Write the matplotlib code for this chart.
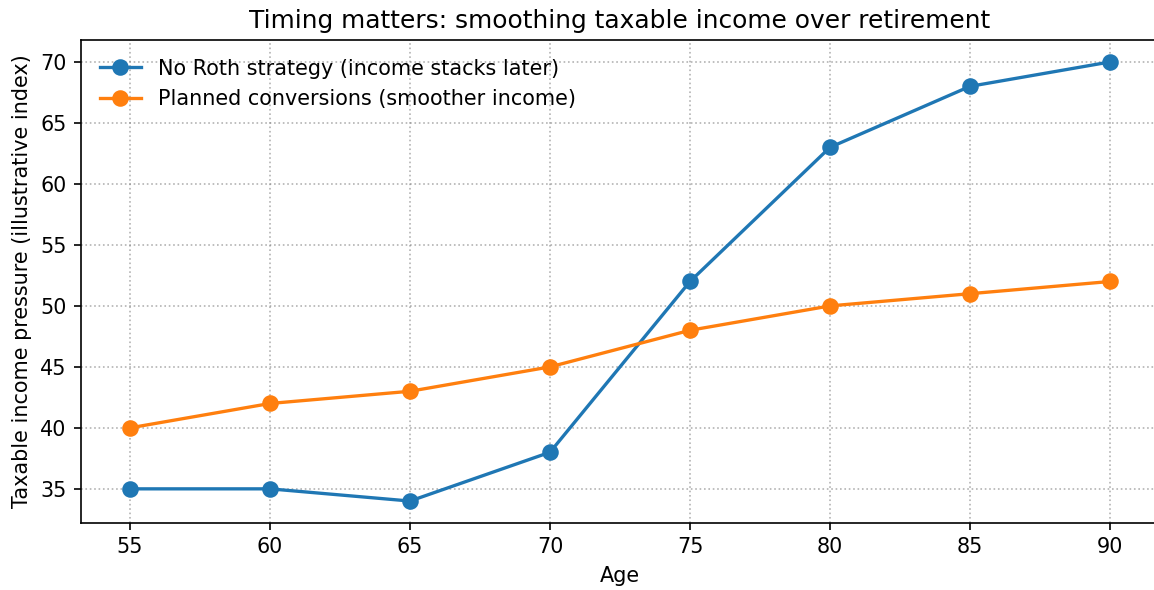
import matplotlib
matplotlib.use("Agg")
import matplotlib.pyplot as plt

# data
ages = [55, 60, 65, 70, 75, 80, 85, 90]
no_roth = [35, 35, 34, 38, 52, 63, 68, 70]
planned = [40, 42, 43, 45, 48, 50, 51, 52]

DPI = 149
fig = plt.figure(figsize=(1154 / DPI, 590 / DPI), dpi=DPI)
# axes placed so the right edge runs just past the image, as in the reference
ax = fig.add_axes([81 / 1154, 67 / 590, 1078 / 1154, 483 / 590])

ax.plot(ages, no_roth, marker="o", markersize=7, linewidth=1.6,
        label="No Roth strategy (income stacks later)")
ax.plot(ages, planned, marker="o", markersize=7, linewidth=1.6,
        label="Planned conversions (smoother income)")

ax.set_xticks(ages)
ax.set_title("Timing matters: smoothing taxable income over retirement", fontsize=12)
ax.set_xlabel("Age")
ax.set_ylabel("Taxable income pressure (illustrative index)")
ax.grid(True, linestyle=":", color="gray", alpha=0.6)
ax.spines["right"].set_visible(False)
ax.legend(loc="upper left", frameon=False)

fig.savefig("out.png", dpi=DPI)
